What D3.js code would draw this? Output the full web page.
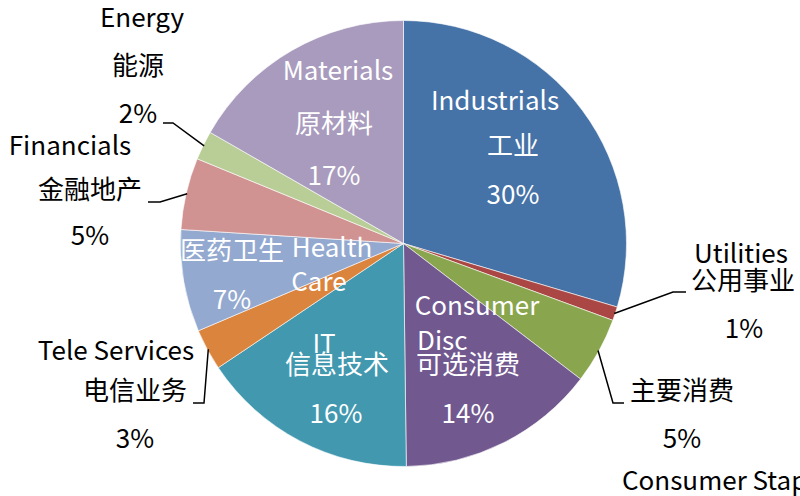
<!DOCTYPE html>
<html>
<head>
<meta charset="utf-8">
<script src="https://cdn.jsdelivr.net/npm/d3@7"></script>
<style>
  html, body { margin: 0; padding: 0; background: #fff; }
  svg { display: block; }
  text { font-family: "Noto Sans CJK SC", "Noto Sans", sans-serif; }
</style>
</head>
<body>
<div id="chart"></div>
<script>
const sectors = ['Industrials', 'Utilities', 'Consumer Staples', 'Consumer Disc', 'IT',
  'Tele Services', 'Health Care', 'Financials', 'Energy', 'Materials']
const sectorsZh = ['工业', '公用事业', '主要消费', '可选消费', '信息技术',
  '电信业务', '医药卫生', '金融地产', '能源', '原材料']
const weights = [29.6, 1.0, 4.8, 14.4, 15.8, 3.0, 7.4, 5.2, 2.1, 16.7]
const colors = ['#4572A7', '#AA4643', '#89A54E', '#71588F', '#4198AF',
  '#DB843D', '#93A9CF', '#D19392', '#B9CD96', '#A99BBD']

const width = 800
const height = 496
const cx = 403.5
const cy = 243.5
const radius = 223

// where each label line sits (centre x, baseline y); part: en, en0, en1, zh, pct
const labelLayout = {
  Industrials: { inside: true, lines: [['en', 495, 110], ['zh', 513, 155], ['pct', 513, 204]] },
  Utilities: { lines: [['en', 741, 263], ['zh', 743, 290], ['pct', 744, 338]], leader: [[673, 292], [686, 292]] },
  'Consumer Staples': { lines: [['zh', 682, 400], ['pct', 682, 448], ['en', 622, 490, 'start']], leader: [[613, 403], [624, 403]] },
  'Consumer Disc': { inside: true, lines: [['en0', 477, 315], ['en1', 417, 350, 'start'], ['zh', 468, 374], ['pct', 468, 423]] },
  IT: { inside: true, lines: [['en', 324, 353], ['zh', 337, 374], ['pct', 336, 423]] },
  'Tele Services': { lines: [['en', 116, 360], ['zh', 135, 400], ['pct', 135, 448]], leader: [[204, 403], [193, 403]] },
  'Health Care': { inside: true, lines: [['zh', 232, 260], ['en0', 332, 257], ['en1', 319, 291], ['pct', 232, 309]] },
  Financials: { lines: [['en', 70, 155], ['zh', 90, 199], ['pct', 90, 245]], leader: [[160, 202], [148, 202]] },
  Energy: { lines: [['en', 142, 27], ['zh', 138, 75], ['pct', 138, 123]], leader: [[173, 123], [163, 123]] },
  Materials: { inside: true, lines: [['en', 338, 80], ['zh', 334, 133], ['pct', 334, 185]] }
}

const data = sectors.map((s, i) => ({ name: s, zh: sectorsZh[i], value: weights[i], color: colors[i] }))
const total = d3.sum(weights)
const fmt = d3.format('.0%')

const svg = d3.select('#chart').append('svg')
  .attr('width', width)
  .attr('height', height)

const pie = d3.pie().sort(null).value(d => d.value)
const arc = d3.arc().innerRadius(0).outerRadius(radius)
const arcs = pie(data)

const g = svg.append('g').attr('transform', `translate(${cx},${cy})`)
g.selectAll('path.slice')
  .data(arcs)
  .join('path')
  .attr('class', 'slice')
  .attr('d', arc)
  .attr('fill', d => d.data.color)
  .attr('stroke', '#fff')
  .attr('stroke-width', 0.6)

// leader lines for the small outside labels
const edge = d3.arc().innerRadius(radius + 1).outerRadius(radius + 1)
arcs.forEach(a => {
  const lay = labelLayout[a.data.name]
  if (!lay.leader) return
  const mid = (a.startAngle + a.endAngle) / 2
  const p0 = [cx + (radius - 1) * Math.sin(mid), cy - (radius - 1) * Math.cos(mid)]
  svg.append('path')
    .attr('d', d3.line()([p0, ...lay.leader]))
    .attr('fill', 'none')
    .attr('stroke', '#000')
    .attr('stroke-width', 1.5)
})

arcs.forEach(a => {
  const lay = labelLayout[a.data.name]
  const words = a.data.name.split(' ')
  const pick = {
    en: a.data.name,
    en0: words[0],
    en1: words.slice(1).join(' '),
    zh: a.data.zh,
    pct: fmt(a.data.value / total)
  }
  lay.lines.forEach(([part, x, y, anchor]) => {
    svg.append('text')
      .attr('x', x)
      .attr('y', y)
      .attr('text-anchor', anchor || 'middle')
      .attr('fill', lay.inside ? '#fff' : '#000')
      .style('font-size', '26px')
      .text(pick[part])
  })
})
</script>
</body>
</html>
